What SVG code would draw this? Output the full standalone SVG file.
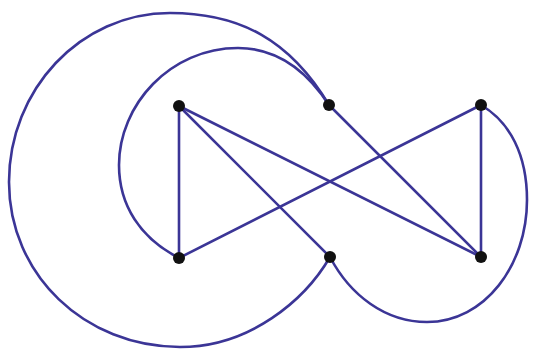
<svg xmlns="http://www.w3.org/2000/svg" width="535" height="351" viewBox="0 0 535 351">
<style>
.e{fill:none;stroke:#3b3596;stroke-width:2.6;stroke-linecap:round}
.n{fill:#111}
</style>
<rect width="535" height="351" fill="#fff"/>
<g id="connectors">
<line class="e" x1="179" y1="106" x2="179" y2="258"/>
<line class="e" x1="179" y1="106" x2="481" y2="257"/>
<line class="e" x1="179" y1="106" x2="330" y2="257"/>
<line class="e" x1="329" y1="105" x2="481" y2="257"/>
<line class="e" x1="179" y1="258" x2="481" y2="105"/>
<line class="e" x1="481" y1="105" x2="481" y2="257"/>
<path class="e" d="M329,105 C290,40 240,13 170,13 C80,13 9,90 9,182 C9,275 85,347 180,347 C250,347 305,300 330,257"/>
<path class="e" d="M329,105 C305,68 275,48 238,48 C170,48 119,105 119,165 C119,205 140,238 179,258"/>
<path class="e" d="M330,257 C350,295 385,322 427,322 C485,322 527,265 527,200 C527,155 510,122 481,105"/>
</g>
<g id="A"><circle class="n" cx="179" cy="106" r="6"/></g>
<g id="B"><circle class="n" cx="329" cy="105" r="6"/></g>
<g id="C"><circle class="n" cx="481" cy="105" r="6"/></g>
<g id="D"><circle class="n" cx="179" cy="258" r="6"/></g>
<g id="E"><circle class="n" cx="330" cy="257" r="6"/></g>
<g id="F"><circle class="n" cx="481" cy="257" r="6"/></g>
</svg>
